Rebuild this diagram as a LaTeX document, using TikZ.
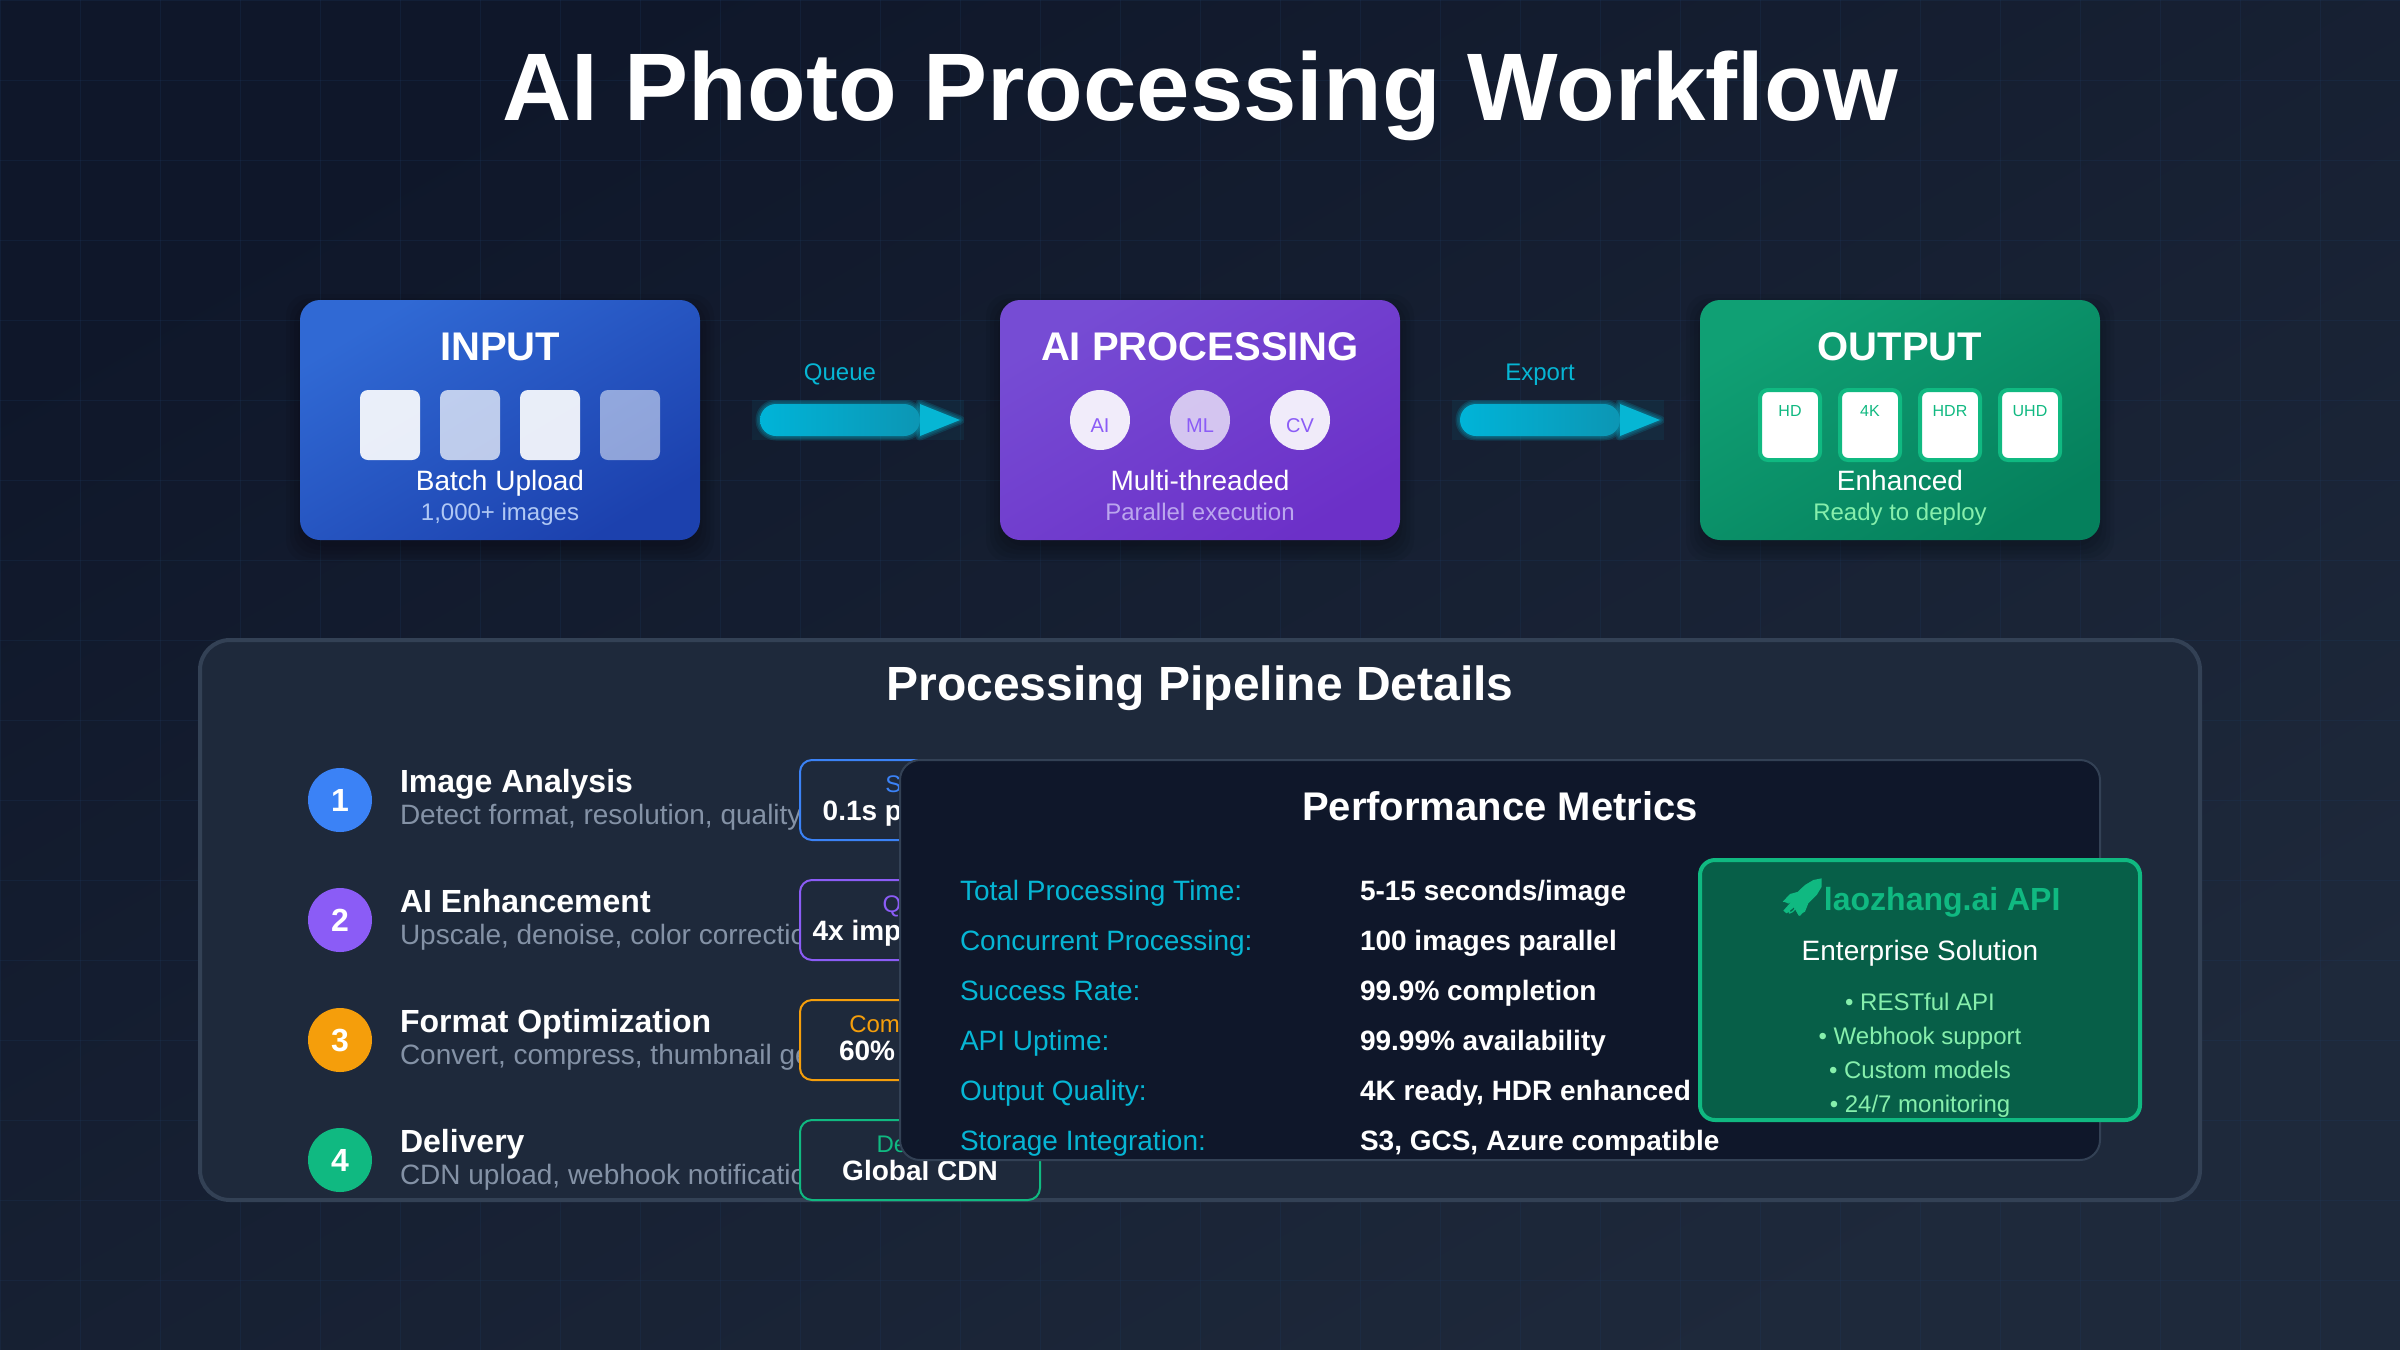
\documentclass[tikz,border=0pt]{standalone}
\usepackage{fontspec}
\setmainfont{Liberation Sans}
\newfontfamily\emojifont{Noto Emoji}
\usetikzlibrary{calc}
\definecolor{bgA}{HTML}{0F172A}
\definecolor{bgB}{HTML}{1E293B}
\definecolor{gridc}{HTML}{1E3A5F}
\definecolor{panelline}{HTML}{334155}
\definecolor{cyanc}{HTML}{06B6D4}
\definecolor{barA}{HTML}{00B4D8}
\definecolor{barB}{HTML}{0C96B4}
\definecolor{blueA}{HTML}{3069D4}
\definecolor{blueB}{HTML}{1C41AE}
\definecolor{purA}{HTML}{764CD4}
\definecolor{purB}{HTML}{6C30C8}
\definecolor{greA}{HTML}{10A074}
\definecolor{greB}{HTML}{05805C}
\definecolor{c1}{HTML}{3B82F6}
\definecolor{c2}{HTML}{8B5CF6}
\definecolor{c3}{HTML}{F59E0B}
\definecolor{c4}{HTML}{10B981}
\definecolor{subc}{HTML}{8492A6}
\definecolor{mintc}{HTML}{86EFAC}
\definecolor{apifill}{HTML}{075F48}
\definecolor{inputsub}{HTML}{B0C8F4}
\definecolor{procsub}{HTML}{BBA6EE}
\newcommand{\softshadow}[4]{%
  \foreach \s in {14,10,6,2,-2}{
    \fill[black,fill opacity=.055,rounded corners=11pt]
      ({#1-\s},{#2-\s+8}) rectangle ({#3+\s},{#4+\s+8});
  }}
\newcommand{\flowarrow}[3]{% name, centre x, label
  \begin{scope}
    \clip ({#2-88},400) rectangle ({#2+124},440);
    \fill[cyanc,fill opacity=.07] ({#2-88},400) rectangle ({#2+124},440);
    \foreach \w in {9,6,3}{
      \draw[cyanc,draw opacity=.16,line width=\w*0.5pt,rounded corners=8pt]
        ({#2-80},404) rectangle ({#2+80},436);
      \draw[cyanc,draw opacity=.16,line width=\w*0.5pt,line join=round]
        ({#2+80},404) -- ({#2+120},420) -- ({#2+80},436) -- cycle;
    }
  \end{scope}
  \node[flowbar] (#1bar) at (#2,420) {};
  \fill[cyanc] (#1bar.east) ++(0,-16) -- ++(40,16) -- ++(-40,16) -- cycle;
  \node[txt,text=cyanc,font=\fontsize{12pt}{14pt}\selectfont] (#1label) at (#2,380) {#3};
}
\tikzset{
  x=0.5pt,y=-0.5pt,
  txt/.style={anchor=base,inner sep=0pt,outer sep=0pt},
  stage/.style={minimum width=200pt,minimum height=120pt,inner sep=0pt,outer sep=0pt,rounded corners=10pt,shade},
  thumb/.style={minimum width=30pt,minimum height=35pt,inner sep=0pt,rounded corners=4pt},
  outthumb/.style={thumb,fill=white,draw=c4,line width=2pt},
  orb/.style={circle,minimum size=30pt,inner sep=0pt},
  flowbar/.style={minimum width=80pt,minimum height=16pt,inner sep=0pt,outer sep=0pt,rounded corners=8pt,shade,
    left color=barA,right color=barB,shading angle=90},
  numdot/.style={circle,minimum size=32pt,inner sep=0pt,text=white,font=\fontsize{16pt}{18pt}\selectfont\bfseries},
  stepname/.style={txt,anchor=base west,text=white,font=\fontsize{16pt}{18pt}\selectfont\bfseries},
  stepsub/.style={txt,anchor=base west,text=subc,font=\fontsize{14pt}{16pt}\selectfont},
  badge/.style={minimum width=120pt,minimum height=40pt,inner sep=0pt,rounded corners=6pt,fill=bgB,line width=1pt},
  badgetop/.style={txt,font=\fontsize{12pt}{14pt}\selectfont},
  badgeval/.style={txt,text=white,font=\fontsize{14pt}{16pt}\selectfont\bfseries},
  metlabel/.style={txt,anchor=base west,text=cyanc,font=\fontsize{14pt}{16pt}\selectfont},
  metval/.style={txt,anchor=base west,text=white,font=\fontsize{14pt}{16pt}\selectfont\bfseries},
}
\begin{document}
\begin{tikzpicture}
\useasboundingbox (0,0) rectangle (2400,1350);
\shade[top color=bgB,bottom color=bgA,shading angle=-150] (0,0) rectangle (2400,1350);
\foreach \gx in {0,80,...,2400}{\draw[gridc,draw opacity=.25,line width=.5pt] (\gx,0) -- (\gx,1350);}
\foreach \gy in {0,80,...,1320}{\draw[gridc,draw opacity=.25,line width=.5pt] (0,\gy) -- (2400,\gy);}

\node[txt,text=white,font=\fontsize{48pt}{56pt}\selectfont\bfseries] (title) at (1200,120) {AI Photo Processing Workflow};

% Input
\softshadow{300}{300}{700}{540}
\node[stage,top color=blueB,bottom color=blueA,shading angle=-149] (input) at (500,420) {};
\node[txt,text=white,font=\fontsize{20pt}{24pt}\selectfont\bfseries] (inT) at (500,360) {INPUT};
\node[thumb,fill=white,fill opacity=.9] (in1) at (390,425) {};
\node[thumb,fill=white,fill opacity=.7] (in2) at (470,425) {};
\node[thumb,fill=white,fill opacity=.9] (in3) at (550,425) {};
\node[thumb,fill=white,fill opacity=.5] (in4) at (630,425) {};
\node[txt,text=white,font=\fontsize{14pt}{16pt}\selectfont] (inA) at (500,490) {Batch Upload};
\node[txt,text=inputsub,font=\fontsize{12pt}{14pt}\selectfont] (inB) at (500,520) {1,000+ images};

% Processing
\softshadow{1000}{300}{1400}{540}
\node[stage,top color=purB,bottom color=purA,shading angle=-149] (proc) at (1200,420) {};
\node[txt,text=white,font=\fontsize{20pt}{24pt}\selectfont\bfseries] (prT) at (1200,360) {AI PROCESSING};
\node[orb,fill=white,fill opacity=.9] (o1) at (1100,420) {};
\node[orb,fill=white,fill opacity=.7] (o2) at (1200,420) {};
\node[orb,fill=white,fill opacity=.9] (o3) at (1300,420) {};
\node[txt,text=c2,font=\fontsize{10pt}{12pt}\selectfont] (o1t) at (1100,432) {AI};
\node[txt,text=c2,font=\fontsize{10pt}{12pt}\selectfont] (o2t) at (1200,432) {ML};
\node[txt,text=c2,font=\fontsize{10pt}{12pt}\selectfont] (o3t) at (1300,432) {CV};
\node[txt,text=white,font=\fontsize{14pt}{16pt}\selectfont] (prA) at (1200,490) {Multi-threaded};
\node[txt,text=procsub,font=\fontsize{12pt}{14pt}\selectfont] (prB) at (1200,520) {Parallel execution};

% Output
\softshadow{1700}{300}{2100}{540}
\node[stage,top color=greB,bottom color=greA,shading angle=-149] (out) at (1900,420) {};
\node[txt,text=white,font=\fontsize{20pt}{24pt}\selectfont\bfseries] (ouT) at (1900,360) {OUTPUT};
\node[outthumb] (q1) at (1790,425) {};
\node[outthumb] (q2) at (1870,425) {};
\node[outthumb] (q3) at (1950,425) {};
\node[outthumb] (q4) at (2030,425) {};
\node[txt,text=c4,font=\fontsize{8pt}{10pt}\selectfont] (q1t) at (1790,416) {HD};
\node[txt,text=c4,font=\fontsize{8pt}{10pt}\selectfont] (q2t) at (1870,416) {4K};
\node[txt,text=c4,font=\fontsize{8pt}{10pt}\selectfont] (q3t) at (1950,416) {HDR};
\node[txt,text=c4,font=\fontsize{8pt}{10pt}\selectfont] (q4t) at (2030,416) {UHD};
\node[txt,text=white,font=\fontsize{14pt}{16pt}\selectfont] (ouA) at (1900,490) {Enhanced};
\node[txt,text=mintc,font=\fontsize{12pt}{14pt}\selectfont] (ouB) at (1900,520) {Ready to deploy};

% Flow arrows
\flowarrow{queue}{840}{Queue}
\flowarrow{export}{1540}{Export}

% Pipeline panel
\node[minimum width=1000pt,minimum height=280pt,inner sep=0pt,rounded corners=15pt,fill=bgB,draw=panelline,line width=2pt] (pipe) at (1200,920) {};
\node[txt,text=white,font=\fontsize{24pt}{28pt}\selectfont\bfseries] (pipeT) at (1200,700) {Processing Pipeline Details};

\node[numdot,fill=c1] (n1) at (340,800) {1};
\node[stepname] (s1) at (400,792) {Image Analysis};
\node[stepsub] (d1) at (400,824) {Detect format, resolution, quality};
\node[badge,draw=c1] (b1) at (920,800) {};
\node[badgetop,text=c1] (b1a) at (920,792) {Speed};
\node[badgeval] (b1b) at (920,820) {0.1s per image};

\node[numdot,fill=c2] (n2) at (340,920) {2};
\node[stepname] (s2) at (400,912) {AI Enhancement};
\node[stepsub] (d2) at (400,944) {Upscale, denoise, color correction};
\node[badge,draw=c2] (b2) at (920,920) {};
\node[badgetop,text=c2] (b2a) at (920,912) {Quality};
\node[badgeval] (b2b) at (920,940) {4x improvement};

\node[numdot,fill=c3] (n3) at (340,1040) {3};
\node[stepname] (s3) at (400,1032) {Format Optimization};
\node[stepsub] (d3) at (400,1064) {Convert, compress, thumbnail generation};
\node[badge,draw=c3] (b3) at (920,1040) {};
\node[badgetop,text=c3] (b3a) at (920,1032) {Compression};
\node[badgeval] (b3b) at (920,1060) {60\% smaller};

\node[numdot,fill=c4] (n4) at (340,1160) {4};
\node[stepname] (s4) at (400,1152) {Delivery};
\node[stepsub] (d4) at (400,1184) {CDN upload, webhook notification};
\node[badge,draw=c4] (b4) at (920,1160) {};
\node[badgetop,text=c4] (b4a) at (920,1152) {Delivery};
\node[badgeval] (b4b) at (920,1180) {Global CDN};

% Metrics panel
\node[minimum width=600pt,minimum height=200pt,inner sep=0pt,rounded corners=10pt,fill=bgA,draw=panelline,line width=1pt] (metrics) at (1500,960) {};
\node[txt,text=white,font=\fontsize{20pt}{24pt}\selectfont\bfseries] (metT) at (1500,820) {Performance Metrics};
\node[metlabel] (m1) at (960,900) {Total Processing Time:};
\node[metval] (v1) at (1360,900) {5-15 seconds/image};
\node[metlabel] (m2) at (960,950) {Concurrent Processing:};
\node[metval] (v2) at (1360,950) {100 images parallel};
\node[metlabel] (m3) at (960,1000) {Success Rate:};
\node[metval] (v3) at (1360,1000) {99.9\% completion};
\node[metlabel] (m4) at (960,1050) {API Uptime:};
\node[metval] (v4) at (1360,1050) {99.99\% availability};
\node[metlabel] (m5) at (960,1100) {Output Quality:};
\node[metval] (v5) at (1360,1100) {4K ready, HDR enhanced};
\node[metlabel] (m6) at (960,1150) {Storage Integration:};
\node[metval] (v6) at (1360,1150) {S3, GCS, Azure compatible};

% API box
\node[minimum width=220pt,minimum height=130pt,inner sep=0pt,rounded corners=7.5pt,fill=apifill,draw=c4,line width=2pt] (api) at (1920,990) {};
\node[txt,text=c4,font=\fontsize{16pt}{20pt}\selectfont\bfseries] (apiT) at (1920,910) {{\fontsize{17.5pt}{20pt}\selectfont\emojifont 🚀}laozhang.ai API};
\fill[c4] (1821.7,878.3) -- (1813.3,880) -- (1805,885) -- (1798.3,891.7) -- (1790,894) -- (1782.7,901.7) -- (1790.7,902.3) -- (1783.3,910.7) -- (1786.7,913.3) -- (1794,907.3) -- (1798.3,915) -- (1805,911.7) -- (1808.3,903.3) -- (1816.7,895) -- (1821.7,886.7) -- cycle;
\node[txt,text=white,font=\fontsize{14pt}{16pt}\selectfont] (apiS) at (1920,960) {Enterprise Solution};
\node[txt,text=mintc,font=\fontsize{12pt}{14pt}\selectfont] (api1) at (1920,1010) {• RESTful API};
\node[txt,text=mintc,font=\fontsize{12pt}{14pt}\selectfont] (api2) at (1920,1044) {• Webhook support};
\node[txt,text=mintc,font=\fontsize{12pt}{14pt}\selectfont] (api3) at (1920,1078) {• Custom models};
\node[txt,text=mintc,font=\fontsize{12pt}{14pt}\selectfont] (api4) at (1920,1112) {• 24/7 monitoring};
\end{tikzpicture}
\end{document}
